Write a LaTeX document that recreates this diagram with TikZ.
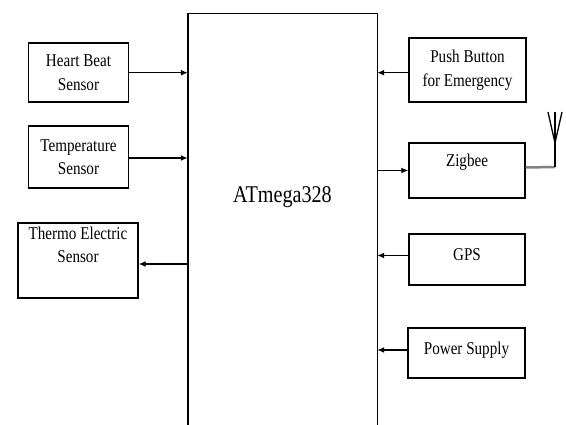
\documentclass[tikz,border=0pt]{standalone}
\usepackage{fontspec}
\setmainfont[FakeStretch=0.84]{Liberation Serif}
\usetikzlibrary{arrows.meta}
\begin{document}
\begin{tikzpicture}[x=1pt,y=-1pt,
  blk/.style={draw, line width=1.4pt, inner sep=0pt, align=center,
    font=\fontsize{18}{23.5}\selectfont},
  arr/.style={line width=1.4pt, -{Latex[length=7pt,width=6pt]}}]
\useasboundingbox (0,0) rectangle (566,425);
% main controller (open at the bottom)
\node (mcu) [minimum width=189pt, minimum height=411pt, inner sep=0pt] at (282.5,219.5) {};
\draw[line width=1.4pt] (mcu.south west) -- (mcu.north west) -- (mcu.north east) -- (mcu.south east);
\node (mcutext) [font=\fontsize{24}{27}\selectfont] at (282.5,197) {ATmega328};
% left blocks
\node (heart) [blk, minimum width=100pt, minimum height=59pt] at (78.5,72.5) {Heart Beat\\Sensor};
\node (temp) [blk, minimum width=100pt, minimum height=62pt] at (78.5,157) {Temperature\\Sensor};
\node (thermo) [blk, minimum width=120pt, minimum height=75pt] at (78,260.5) {Thermo Electric\\Sensor\\[8pt]\mbox{}};
% right blocks
\node (push) [blk, minimum width=117pt, minimum height=64pt] at (467.5,70) {Push Button\\for Emergency};
\node (zig) [blk, minimum width=116pt, minimum height=55pt] at (467,170.5) {Zigbee\\[-4pt]\mbox{}};
\node (gps) [blk, minimum width=116pt, minimum height=51pt] at (467,259.5) {GPS\\[-14.5pt]\mbox{}};
\node (pwr) [blk, minimum width=117pt, minimum height=50pt] at (466.5,353) {Power Supply\\[-13.5pt]\mbox{}};
% connectors
\draw[arr] ([yshift=-0.2pt]heart.east) -- ([yshift=-0.2pt]heart.east -| mcu.west);
\draw[arr] ([yshift=-1pt]temp.east) -- ([yshift=-1pt]temp.east -| mcu.west);
\draw[arr] ([yshift=-3.5pt]thermo.east -| mcu.west) -- ([yshift=-3.5pt]thermo.east);
\draw[arr] ([yshift=-2.7pt]push.west) -- ([yshift=-2.7pt]push.west -| mcu.east);
\draw[arr] (zig.west -| mcu.east) -- (zig.west);
\draw[arr] ([yshift=4pt]gps.west) -- ([yshift=4pt]gps.west -| mcu.east);
\draw[arr] ([yshift=3pt]pwr.west) -- ([yshift=3pt]pwr.west -| mcu.east);
% antenna
\coordinate (ant) at (555,167);
\coordinate (antv) at (555,143);
\coordinate (anttop) at (555,112);
\draw[gray, line width=2.5pt] ([yshift=3pt]zig.east) -- (ant);
\draw[line width=1.3pt] (ant) -- (anttop);
\draw[line width=1.3pt] (548,112) -- (antv) -- (562,112);
\end{tikzpicture}
\end{document}
